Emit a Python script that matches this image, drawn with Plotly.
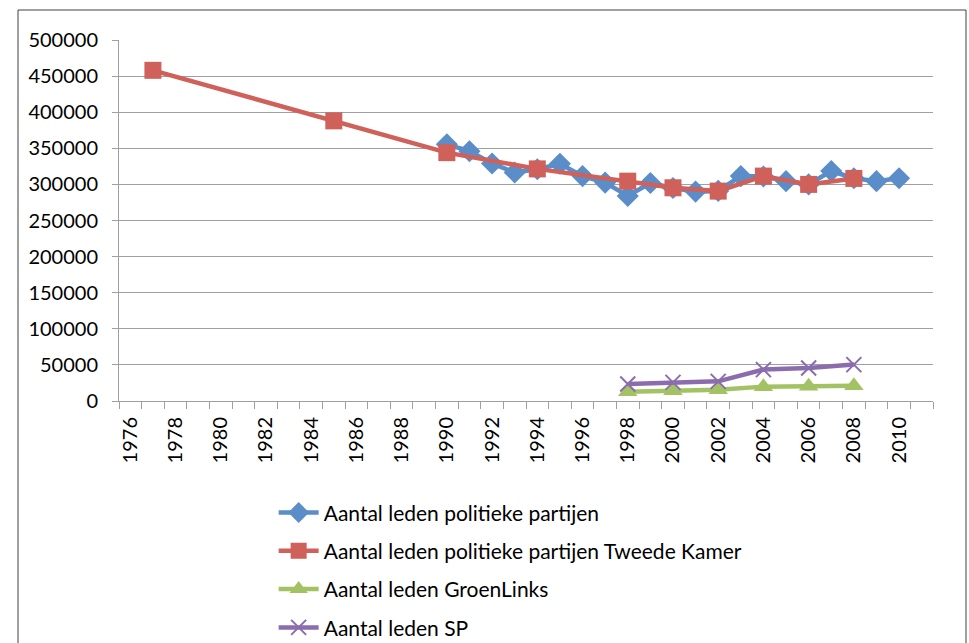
import plotly.graph_objects as go

years_all = [1990, 1991, 1992, 1993, 1994, 1995, 1996, 1997, 1998, 1999, 2000,
             2001, 2002, 2003, 2004, 2005, 2006, 2007, 2008, 2009, 2010]
leden_all = [355500, 346000, 329000, 316500, 321000, 328500, 311500, 302500, 284000, 302000, 295000,
             290000, 291000, 311500, 311000, 304500, 300000, 318500, 308500, 304500, 308500]

years_tk = [1977, 1985, 1990, 1994, 1998, 2000, 2002, 2004, 2006, 2008]
leden_tk = [458000, 388000, 344000, 321500, 304500, 295300, 290700, 311500, 300000, 308300]

years_gl = [1998, 2000, 2002, 2004, 2006, 2008]
leden_gl = [12900, 14300, 15700, 19900, 20300, 21200]

years_sp = [1998, 2000, 2002, 2004, 2006, 2008]
leden_sp = [23600, 25800, 27200, 43500, 45800, 50400]

x_ticks = list(range(1976, 2011, 2))
y_ticks = list(range(0, 500001, 50000))

FONT = "Lato"
FS = 20

fig = go.Figure()
fig.add_trace(go.Scatter(
    x=years_all, y=leden_all, mode="lines+markers", name="Aantal leden politieke partijen",
    legendgroup="a",
    line=dict(color="#5B8DC8", width=4.5),
    marker=dict(symbol="diamond", size=17, color="#5B8DC8")))
fig.add_trace(go.Scatter(
    x=years_tk, y=leden_tk, mode="lines+markers", name="Aantal leden politieke partijen Tweede Kamer",
    legendgroup="b",
    line=dict(color="#CF615A", width=4.5),
    marker=dict(symbol="square", size=17, color="#CF615A")))
fig.add_trace(go.Scatter(
    x=years_gl, y=leden_gl, mode="lines+markers", name="Aantal leden GroenLinks",
    legendgroup="c",
    line=dict(color="#A3C264", width=4.5),
    marker=dict(symbol="triangle-up", size=17, color="#A3C264")))
fig.add_trace(go.Scatter(
    x=years_sp, y=leden_sp, mode="lines+markers", name="Aantal leden SP",
    legendgroup="d",
    line=dict(color="#8B6DAE", width=4.5),
    marker=dict(symbol="x-thin", size=15, color="#8B6DAE", line=dict(color="#8B6DAE", width=2))))

fig.update_layout(
    width=969, height=643,
    margin=dict(l=119, r=36, t=40, b=242, autoexpand=False),
    paper_bgcolor="white", plot_bgcolor="white",
    font=dict(family=FONT, size=FS, color="#000000"),
    showlegend=True,
    legend=dict(x=0.19, y=-0.253, xanchor="left", yanchor="top",
                font=dict(family=FONT, size=21), tracegroupgap=8,
                bgcolor="rgba(0,0,0,0)", itemwidth=40),
    xaxis=dict(range=[1975.5, 2011.5], tickvals=x_ticks, ticktext=[str(v) for v in x_ticks],
               tickangle=-90, ticks="", showgrid=False, zeroline=False,
               showline=True, linecolor="#a0a0a0", linewidth=1,
               minor=dict(ticks="outside", dtick=1, tick0=1975.5, ticklen=7,
                          tickcolor="#a0a0a0", showgrid=False),
               ticklabelstandoff=7,
               tickfont=dict(family=FONT, size=FS)),
    yaxis=dict(range=[0, 500000], tickvals=y_ticks, tickformat="d",
               showgrid=True, gridcolor="#a0a0a0", gridwidth=1, zeroline=False,
               showline=True, linecolor="#a0a0a0", linewidth=1,
               ticks="outside", ticklen=6, tickcolor="#a0a0a0",
               ticklabelstandoff=10,
               tickfont=dict(family=FONT, size=FS)),
)

fig.add_shape(type="rect", xref="paper", yref="paper",
              x0=(18 - 119) / 814, x1=(966 - 119) / 814,
              y0=-(650 - 401) / 361, y1=1 + 30 / 361,
              line=dict(color="#404040", width=1), fillcolor="rgba(0,0,0,0)", layer="below")

fig.write_html("out.html", config={"displayModeBar": False},
               post_script="document.body.style.margin='0';document.body.style.overflow='hidden';")
